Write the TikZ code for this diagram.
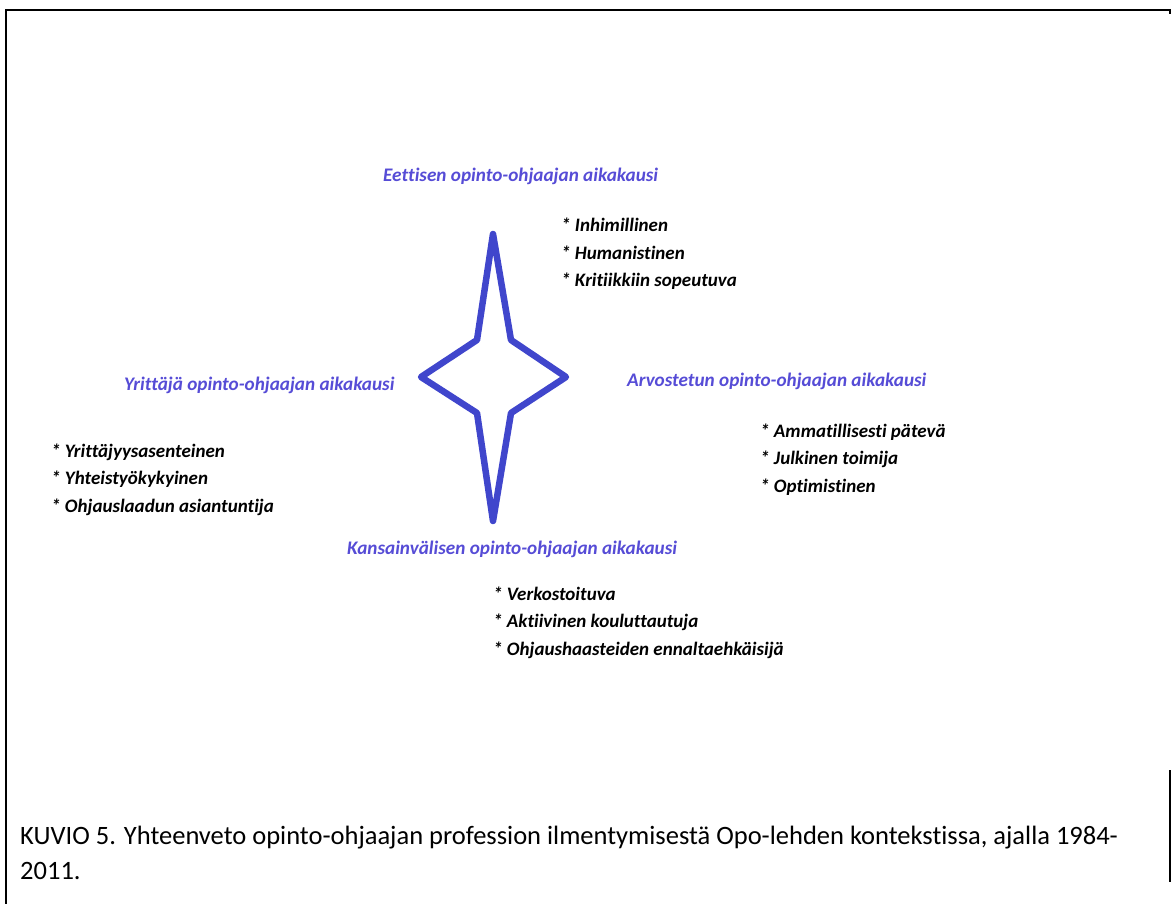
\documentclass[tikz,border=0pt]{standalone}
\usepackage{fontspec}
\setmainfont[Ligatures=NoCommon]{Carlito}
\definecolor{starblue}{RGB}{64,70,204}
\definecolor{titleblue}{RGB}{86,76,214}
\tikzset{
  frameline/.style={line width=2.6pt, black},
  starline/.style={line width=6.5pt, starblue, line join=round, line cap=round},
  eratitle/.style={anchor=base west, inner sep=0pt, text=titleblue, font=\fontsize{19.2}{23}\selectfont\bfseries\itshape},
  itemlist/.style={anchor=base west, inner sep=0pt, align=left, text=black, font=\fontsize{19}{27.5}\selectfont\bfseries\itshape},
  captiontext/.style={anchor=base west, inner sep=0pt, align=left, text=black, font=\fontsize{26.5}{35}\selectfont}
}
\begin{document}
\begin{tikzpicture}[x=1pt,y=-1pt]
\useasboundingbox (0,0) rectangle (1171,904);
% frame
\coordinate (fl) at (6,904);
\coordinate (ftl) at (6,10);
\coordinate (ftr) at (1170,10);
\coordinate (ftick) at (1170,14);
\coordinate (frt) at (1170,770);
\coordinate (frb) at (1170,882);
\draw[frameline] (fl) -- (ftl) -- (ftr) -- (ftick);
\draw[frameline] (frt) -- (frb);
% star
\coordinate (st) at (493,234);
\coordinate (sul) at (477,340);
\coordinate (sl) at (421,377);
\coordinate (sll) at (477,413);
\coordinate (sb) at (493,521);
\coordinate (slr) at (511,413);
\coordinate (sr) at (566,377);
\coordinate (sur) at (511,340);
\draw[starline] (st) -- (sul) -- (sl) -- (sll) -- (sb) -- (slr) -- (sr) -- (sur) -- cycle;
% titles
\node[eratitle] (t1) at (383,182) {Eettisen opinto-ohjaajan aikakausi};
\node[eratitle] (t2) at (124,390) {Yrittäjä opinto-ohjaajan aikakausi};
\node[eratitle] (t3) at (627,386) {Arvostetun opinto-ohjaajan aikakausi};
\node[eratitle] (t4) at (347,554) {Kansainvälisen opinto-ohjaajan aikakausi};
% items (anchor = baseline of the last line)
\node[itemlist] (i1) at (561,287) {* Inhimillinen\\* Humanistinen\\* Kritiikkiin sopeutuva};
\node[itemlist] (i2) at (51,512) {* Yrittäjyysasenteinen\\* Yhteistyökykyinen\\* Ohjauslaadun asiantuntija};
\node[itemlist] (i3) at (760,492) {* Ammatillisesti pätevä\\* Julkinen toimija\\* Optimistinen};
\node[itemlist] (i4) at (493,655) {* Verkostoituva\\* Aktiivinen kouluttautuja\\* Ohjaushaasteiden ennaltaehkäisijä};
% caption
\node[captiontext] (cap) at (20,879) {KUVIO 5. Yhteenveto opinto-ohjaajan profession ilmentymisestä Opo-lehden kontekstissa, ajalla 1984-\\2011.};
\end{tikzpicture}
\end{document}
